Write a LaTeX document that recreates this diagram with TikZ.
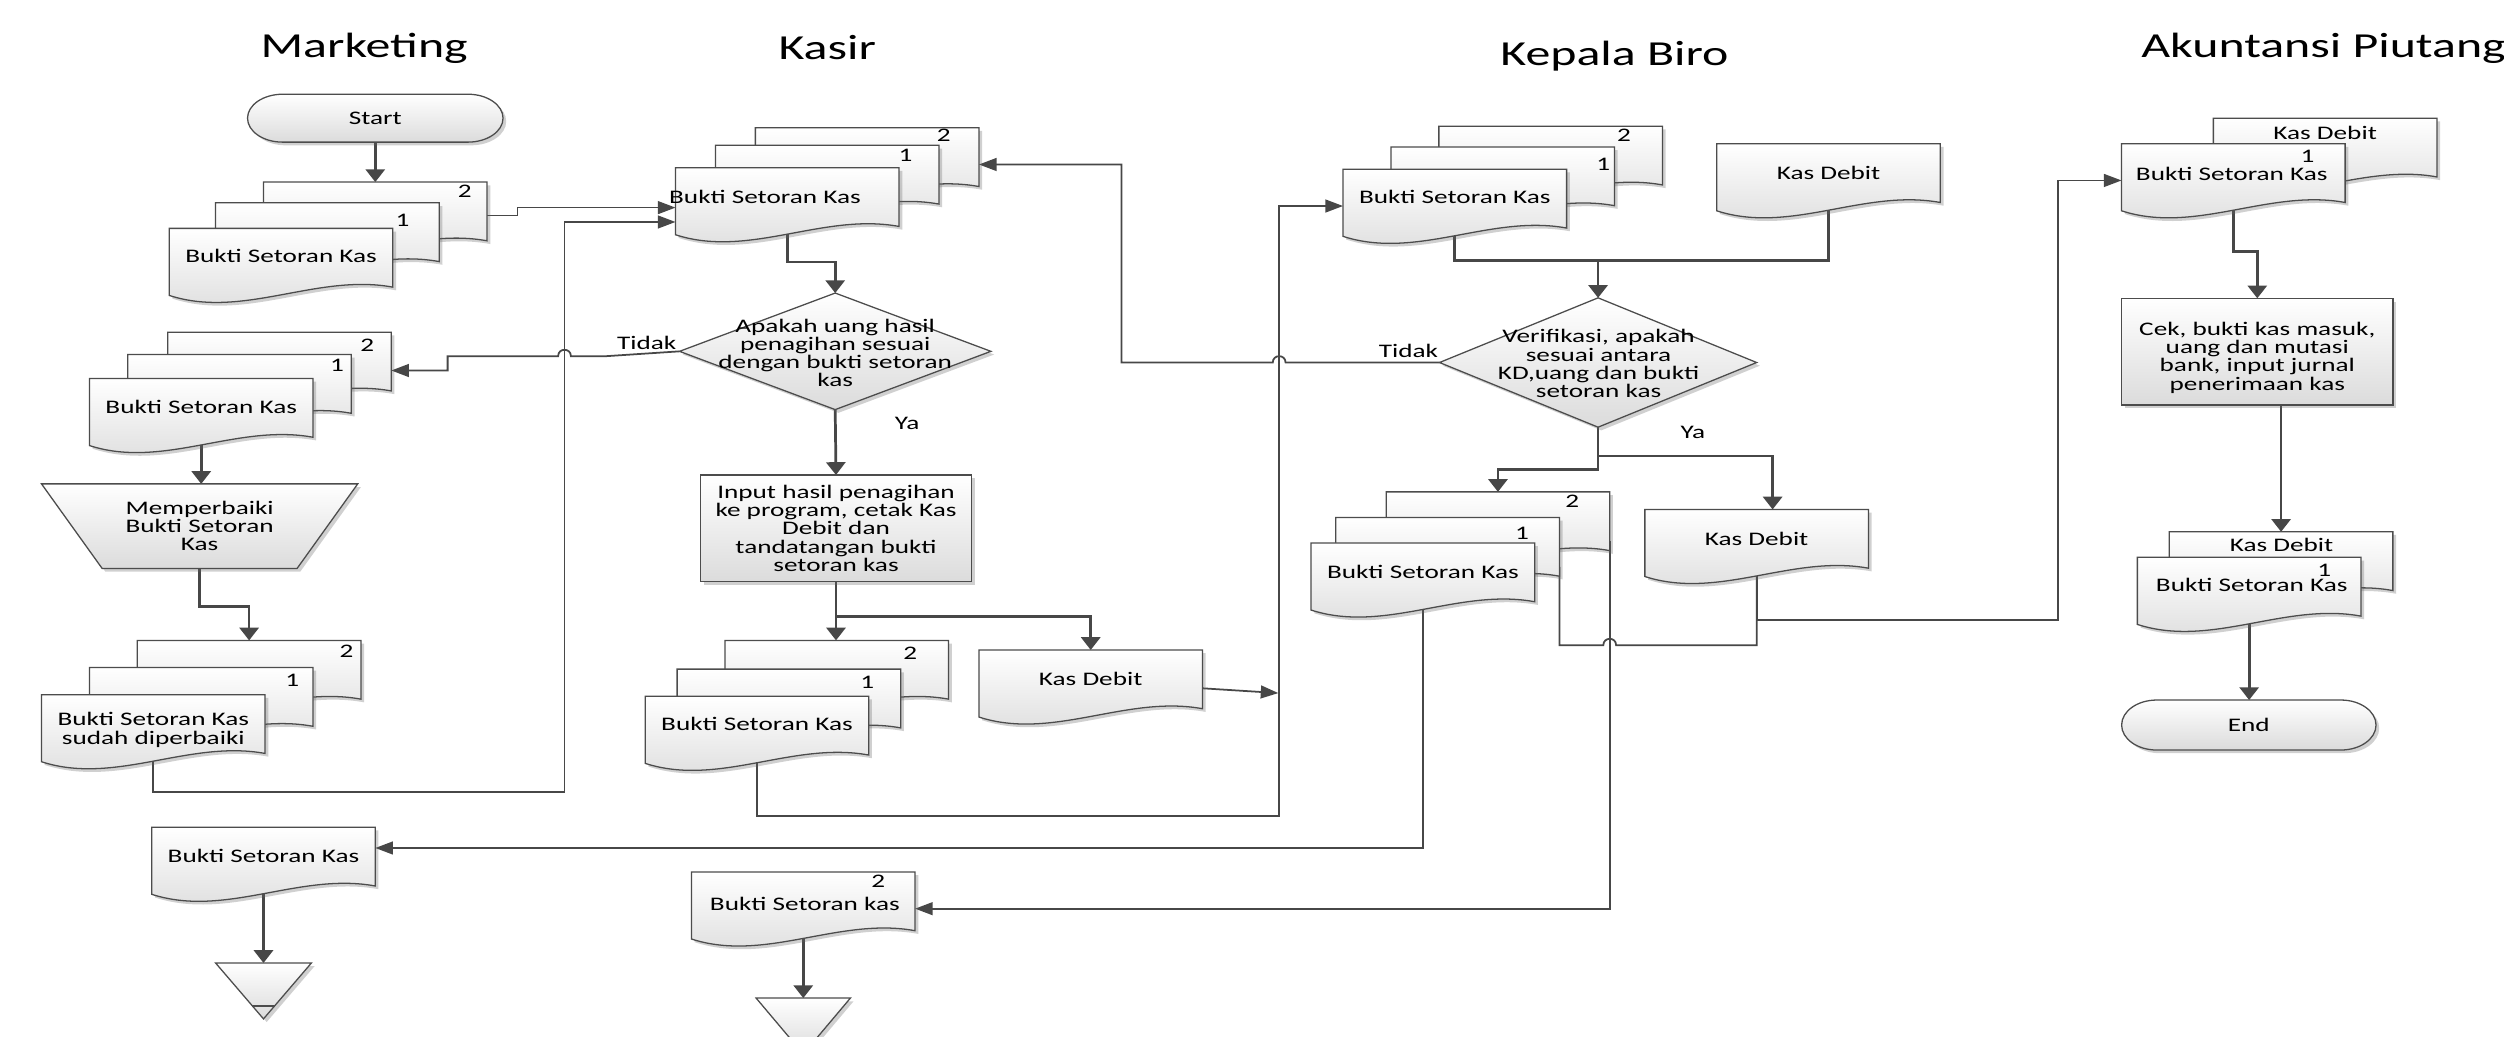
\documentclass[tikz,border=0pt]{standalone}
\usepackage{fontspec}
\setmainfont{Carlito}[FakeStretch=1.42]
\usetikzlibrary{arrows.meta,shadows,backgrounds,calc}

\tikzset{
  shp/.style={draw=black!70, line width=0.8pt, top color=white, bottom color=black!14,
    drop shadow={shadow xshift=2pt, shadow yshift=-2pt, opacity=0.3, fill=black!60}},
  anchorbox/.style={inner sep=0pt, outer sep=0pt},
  txt/.style={inner sep=0pt, outer sep=0pt, align=center, font=\fontsize{12}{11.4}\selectfont},
  ttl/.style={inner sep=0pt, font=\fontsize{22}{26}\selectfont},
  flowln/.style={draw=black!72, line width=1.7pt},
  retln/.style={draw=black!72, line width=1.1pt},
  flowtip/.style={-{Triangle[length=8pt,width=12pt]}},
  rettip/.style={-{Triangle[length=11pt,width=8pt]}},
}

% document symbol: left, top; 140 wide with a wavy lower edge
\newcommand\docshape[3]{%
  \path[shp] (#2,#3) -- (#2+140,#3) -- (#2+140,#3+36.8)
    .. controls (#2+92.4,#3+28) and (#2+46.2,#3+57) .. (#2,#3+42) -- cycle;
  \node[anchorbox, minimum width=140pt, minimum height=42pt] (#1) at (#2+70,#3+21) {};
}

% terminator: name, centre x, centre y, width, height, text
\newcommand\termshape[6]{%
  \pgfmathsetmacro\termL{#2-#4/2}%
  \pgfmathsetmacro\termR{#2+#4/2}%
  \pgfmathsetmacro\termT{#3-#5/2}%
  \pgfmathsetmacro\termB{#3+#5/2}%
  \pgfmathsetmacro\termQ{0.2239*#5}%
  \path[shp] (\termL+22,\termT) -- (\termR-22,\termT)
    .. controls (\termR-9.85,\termT) and (\termR,\termT+\termQ) .. (\termR,#3)
    .. controls (\termR,\termB-\termQ) and (\termR-9.85,\termB) .. (\termR-22,\termB)
    -- (\termL+22,\termB)
    .. controls (\termL+9.85,\termB) and (\termL,\termB-\termQ) .. (\termL,#3)
    .. controls (\termL,\termT+\termQ) and (\termL+9.85,\termT) .. cycle;
  \node[txt, minimum width=#4pt, minimum height=#5pt] (#1) at (#2,#3) {#6};
}

% decision: name, centre x, centre y, half width, half height
\newcommand\diashape[5]{%
  \path[shp] (#2,#3-#5) -- (#2+#4,#3) -- (#2,#3+#5) -- (#2-#4,#3) -- cycle;
  \node[anchorbox, minimum width={2*#4pt}, minimum height={2*#5pt}] (#1) at (#2,#3) {};
}

\begin{document}
\begin{tikzpicture}[x=1pt,y=-1pt]
\useasboundingbox (0,0) rectangle (1568,649);

% ---------- lane titles ----------
\node[ttl] (hMkt) at (228,30) {Marketing};
\node[ttl] (hKsr) at (518,30) {Kasir};
\node[ttl] (hKb)  at (1011,35) {Kepala Biro};
\node[ttl] (hAk)  at (1455,30) {Akuntansi Piutang};

% ---------- Marketing ----------
\termshape{tStart}{235}{74}{160}{30}{Start}

\docshape{stA2}{165}{114}
\docshape{stA1}{135}{127}
\docshape{stA}{106}{143}
\node[txt] (stA2n) at (291,120) {2};
\node[txt] (stA1n) at (252,138) {1};
\node[txt] (stAt) at (176,160) {Bukti Setoran Kas};

\docshape{stB2}{105}{208}
\docshape{stB1}{80}{222}
\docshape{stB}{56}{237}
\node[txt] (stB2n) at (230,216) {2};
\node[txt] (stB1n) at (211,229) {1};
\node[txt] (stBt) at (126,255) {Bukti Setoran Kas};

\path[shp] (26,303) -- (224,303) -- (186,356) -- (64,356) -- cycle;
\node[txt, minimum width=198pt, minimum height=53pt] (trap) at (125,329.5) {Memperbaiki\\Bukti Setoran\\Kas};

\docshape{stC2}{86}{401}
\docshape{stC1}{56}{418}
\docshape{stC}{26}{435}
\node[txt] (stC2n) at (217,408) {2};
\node[txt] (stC1n) at (183,426) {1};
\node[txt] (stCt) at (96,457) {Bukti Setoran Kas\\sudah diperbaiki};

\docshape{docD}{95}{518}
\node[txt] (docDt) at (165,536) {Bukti Setoran Kas};

\path[shp] (135,603) -- (195,603) -- (165,638) -- cycle;
\draw[black!70, line width=0.8pt] (158.1,630) -- (171.9,630);
\node[anchorbox, minimum width=60pt, minimum height=35pt] (triA) at (165,620.5) {};

% ---------- Kasir ----------
\docshape{stE2}{473}{80}
\docshape{stE1}{448}{91}
\docshape{stE}{423}{105}
\node[txt] (stE2n) at (591,85) {2};
\node[txt] (stE1n) at (567,97) {1};
\node[txt] (stEt) at (479,123) {Bukti Setoran Kas};

\diashape{dia1}{523}{220}{97.5}{36.5}
\node[txt] (dia1t) at (523,221) {Apakah uang hasil\\penagihan sesuai\\dengan bukti setoran\\kas};
\node[txt] (tidak1) at (405,215) {Tidak};
\node[txt] (ya1) at (568,265) {Ya};

\node[shp, txt, minimum width=169.7pt, minimum height=66.8pt] (box1) at (523.5,330.8)
  {Input hasil penagihan\\ke program, cetak Kas\\Debit dan\\tandatangan bukti\\setoran kas};

\docshape{stF2}{454}{401}
\docshape{stF1}{424}{419}
\docshape{stF}{404}{436}
\node[txt] (stF2n) at (570,409) {2};
\node[txt] (stF1n) at (543,427) {1};
\node[txt] (stFt) at (474,453) {Bukti Setoran Kas};

\docshape{kdG}{613}{407}
\node[txt] (kdGt) at (683,425) {Kas Debit};

\docshape{docH}{433}{546}
\node[txt] (docHn) at (550,552) {2};
\node[txt] (docHt) at (504,566) {Bukti Setoran kas};

\path[shp] (473.5,625) -- (532.5,625) -- (503,660) -- cycle;
\draw[black!70, line width=0.8pt] (496.3,652) -- (509.7,652);
\node[anchorbox, minimum width=59pt, minimum height=35pt] (triB) at (503,642.5) {};

% ---------- Kepala Biro ----------
\docshape{stI2}{901}{79}
\docshape{stI1}{871}{92}
\docshape{stI}{841}{106}
\node[txt] (stI2n) at (1017,85) {2};
\node[txt] (stI1n) at (1004,103) {1};
\node[txt] (stIt) at (911,123) {Bukti Setoran Kas};

\docshape{kdJ}{1075}{90}
\node[txt] (kdJt) at (1145,108) {Kas Debit};

\diashape{dia2}{1000.7}{227}{99.3}{40.5}
\node[txt] (dia2t) at (1001,227.7) {Verifikasi, apakah\\sesuai antara\\KD,uang dan bukti\\setoran kas};
\node[txt] (tidak2) at (882,220) {Tidak};
\node[txt] (ya2) at (1060,271) {Ya};

\docshape{stL2}{868}{308}
\docshape{stL1}{836.5}{324}
\docshape{stL}{821}{340}
\node[txt] (stL2n) at (984.5,314) {2};
\node[txt] (stL1n) at (953,334) {1};
\node[txt] (stLt) at (891,358) {Bukti Setoran Kas};

\docshape{kdK}{1030}{319}
\node[txt] (kdKt) at (1100,337.5) {Kas Debit};
\coordinate (kdKin) at (1110,319);

% ---------- Akuntansi Piutang ----------
\docshape{stM2}{1386}{74}
\docshape{stM}{1328.5}{90}
\node[txt] (stM2t) at (1456,83) {Kas Debit};
\node[txt] (stMn) at (1445,98) {1};
\node[txt] (stMt) at (1397.5,109) {Bukti Setoran Kas};

\node[shp, anchorbox, minimum width=170pt, minimum height=66.8pt] (boxP) at (1413.5,220.2) {};
\node[txt] (boxPt) at (1413.5,224) {Cek, bukti kas masuk,\\uang dan mutasi\\bank, input jurnal\\penerimaan kas};

\docshape{stN2}{1358.4}{333}
\docshape{stN}{1338.4}{349}
\node[txt] (stN2t) at (1428.7,341) {Kas Debit};
\node[txt] (stNn) at (1455.4,357) {1};
\node[txt] (stNt) at (1410,366.5) {Bukti Setoran Kas};

\termshape{tEnd}{1408.2}{454}{159.3}{31.3}{End}

% ---------- connectors ----------
\begin{scope}[on background layer]
\fill[white] (0,0) rectangle (1568,649);

% main flow
\draw[flowln, flowtip] (tStart.south) -- (stA2.north);
\draw[flowln, flowtip] (stB.center) -- (stB.center |- trap.north);
\draw[flowln, flowtip] (trap.south) -- ++(0,24) -| (stC2.north);
\draw[flowln, flowtip] (docD.center) -- (triA.north);

\draw[flowln, flowtip] (stE.center) -- (493,164) -| (dia1.north);
\draw[flowln, flowtip] (dia1.south) -- (box1.north);
\coordinate (jK) at (523.5,386);
\draw[flowln, flowtip] (box1.south) -- (jK) -- (jK |- stF2.north);
\draw[flowln, flowtip] (jK) -| (kdG.north);
\draw[flowln, flowtip] (docH.center) -- (triB.north);

\coordinate (jB) at (1000.7,163);
\draw[flowln] (stI.center) |- (jB) -| (kdJ.center);
\draw[flowln, flowtip] (jB) -- (dia2.north);
\coordinate (jC) at (1000.7,285.6);
\coordinate (jD) at (1000.7,294);
\draw[flowln, flowtip] (dia2.south) -- (jC) -| (kdKin);
\draw[flowln, flowtip] (jC) -- (jD) -| (stL2.north);

\coordinate (jM) at (1413.5,157.6);
\draw[flowln, flowtip] (stM.center) |- (jM) -- (boxP.north);
\draw[flowln, flowtip] (boxP.south -| stN2.north) -- (stN2.north);
\draw[flowln, flowtip] (stN.center) -- (stN.center |- tEnd.north);

% hand-offs and returns
\draw[retln, rettip] (stA2.east) -- (324,135) -- (324,130) -- ($(stE.west)+(0,4)$);
\draw[retln, rettip] (stC.center) -- (96,496) -- (353.5,496) -- (353.5,139) -- ($(stE.west)+(0,13)$);
\draw[retln, rettip] (dia1.west) -- (380,223) -- (357.5,223)
  .. controls (357.5,217.7) and (349.5,217.7) .. (349.5,223)
  -- (280.3,223) -- (280.3,232) -- ($(stB2.east)+(0,3)$);
\draw[retln, rettip] (dia2.west) -- (805,227)
  .. controls (805,221.7) and (797,221.7) .. (797,227)
  -- (702.2,227) -- (702.2,103) -- ($(stE2.east)+(0,2)$);
\draw[retln, rettip] (stF.center) -- (474,511) -- (801,511) -- (801,129) -- ($(stI.west)+(0,2)$);
\coordinate (vJoin) at (800.5,434);
\draw[retln, rettip] ($(kdG.east)+(0,3)$) -- (vJoin);
\draw[retln, rettip] (stL.center) -- (891,531) -- ($(docD.east)+(0,-8)$);
\draw[retln, rettip] ($(stL2.east)+(0,10)$) -- (1008,569) -- ($(docH.east)+(0,2)$);
\draw[retln] ($(stL1.east)+(0,10)$) -- (976.5,404) -- (1004,404)
  .. controls (1004,398.7) and (1012,398.7) .. (1012,404) -- (1100,404) -- (kdK.center);
\draw[retln, rettip] (kdK.center) -- (1100,388) -- (1288.6,388) -- (1288.6,113) -- ($(stM.west)+(0,2)$);
\end{scope}
\end{tikzpicture}
\end{document}
